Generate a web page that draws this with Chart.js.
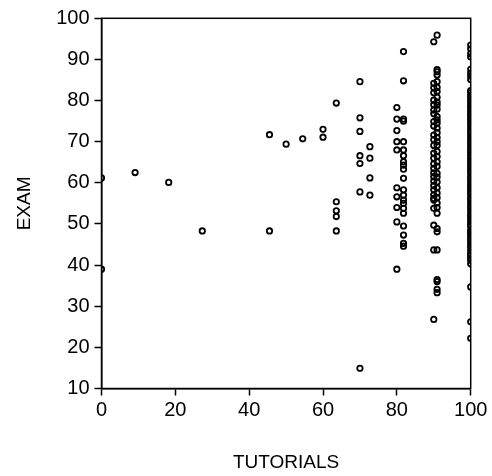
<!DOCTYPE html>
<html>
<head>
<meta charset="utf-8">
<script src="https://cdn.jsdelivr.net/npm/chart.js@4"></script>
<style>
  html, body { margin: 0; padding: 0; background: #fff; }
  #wrap { width: 492px; height: 476px; }
</style>
</head>
<body>
<div id="wrap"><canvas id="chart"></canvas></div>
<script>
// Tutorial attendance levels (x) and the exam scores seen at each level (y)
const tutorialLevels = [0, 9.1, 18.2, 27.3, 45.5, 50, 54.5, 60, 63.6, 70, 72.7, 80, 81.8, 90, 90.9, 100];

const examAt0 = [61.2, 39.0];
const examAt9 = [62.5];
const examAt18 = [60.1];
const examAt27 = [48.3];
const examAt45 = [71.7, 48.3];
const examAt50 = [69.4];
const examAt54 = [70.7];
const examAt60 = [73.0, 71.1];
const examAt63 = [79.4, 55.4, 53.2, 51.8, 48.3];
const examAt70 = [84.6, 75.8, 72.5, 66.6, 64.7, 57.8, 14.9];
const examAt72 = [68.8, 66.0, 61.2, 57.0];
const examAt80 = [78.3, 75.5, 72.7, 70.0, 68.0, 58.8, 56.6, 54.0, 50.5, 39.0];
const examAt81 = [91.9, 84.8, 75.5, 75.0, 70.0, 68.0, 66.6, 65.1, 64.3, 63.3, 61.1, 58.3, 57.0,
                  55.8, 55.0, 53.8, 52.6, 49.5, 47.3, 45.3, 44.6];
const examAt90 = [94.3, 84.2, 83.1, 81.9, 80.1, 79.0, 77.7, 76.8, 74.9, 73.8, 71.6, 70.5, 69.1,
                  67.2, 66.0, 64.6, 63.5, 62.4, 61.5, 60.4, 59.3, 58.3, 57.1, 56.2, 55.8,
                  53.8, 49.7, 43.7, 26.8];
const examAt91 = [95.9, 87.5, 87.0, 86.2, 84.6, 83.2, 82.2, 80.8, 79.6, 78.9, 77.9, 76.1, 75.3,
                  74.5, 73.3, 72.2, 71.0, 70.0, 69.1, 67.6, 66.4, 65.1, 64.0, 62.3, 61.4,
                  60.2, 58.8, 57.5, 56.4, 55.1, 54.0, 52.6, 48.9, 48.1, 43.7, 36.5, 36.0,
                  34.1, 33.3];
const examAt100 = [93.5, 92.6, 91.4, 90.6, 87.6, 86.7, 86.0, 85.1, 82.4, 81.9, 81.2, 80.6, 80.0,
                   79.4, 78.8, 78.2, 77.6, 76.9, 76.4, 75.8, 75.3, 74.6, 74.0, 73.2, 72.5, 71.9,
                   71.1, 70.4, 69.8, 69.2, 68.5, 67.9, 67.3, 66.7, 66.1, 65.4, 64.8, 64.2,
                   63.6, 62.9, 62.3, 61.5, 60.9, 60.2, 59.6, 59.0, 58.4, 57.8, 57.3, 56.5,
                   55.9, 55.2, 54.4, 53.8, 53.1, 52.3, 51.7, 51.2, 50.6, 49.9, 49.3, 48.4,
                   47.9, 47.5, 46.8, 46.2, 45.6, 44.9, 44.3, 43.5, 42.8, 42.4, 41.7, 41.2,
                   40.3, 34.7, 26.2, 22.2];

const examByLevel = [examAt0, examAt9, examAt18, examAt27, examAt45, examAt50, examAt54, examAt60,
                     examAt63, examAt70, examAt72, examAt80, examAt81, examAt90, examAt91, examAt100];

const xTicks = [0, 20, 40, 60, 80, 100];
const yTicks = [10, 20, 30, 40, 50, 60, 70, 80, 90, 100];

const points = [];
tutorialLevels.forEach((t, i) => {
    examByLevel[i].forEach(e => points.push({ x: t, y: e }));
});

const FONT = "'Liberation Sans', Arial, sans-serif";

// draws the closed frame around the plot area
const frameBox = {
    id: 'frameBox',
    afterDraw(chart) {
        const { ctx, chartArea: a } = chart;
        ctx.save();
        ctx.strokeStyle = '#000';
        ctx.lineWidth = 1.5;
        ctx.strokeRect(a.left, a.top, a.right - a.left, a.bottom - a.top);
        ctx.restore();
    }
};

new Chart(document.getElementById('chart'), {
    type: 'scatter',
    data: {
        datasets: [{
            data: points,
            pointStyle: 'circle',
            pointRadius: 2.7,
            pointBorderWidth: 1.8,
            pointBorderColor: '#000',
            pointBackgroundColor: 'rgba(0,0,0,0)',
            clip: 0
        }]
    },
    options: {
        responsive: true,
        maintainAspectRatio: false,
        animation: false,
        layout: { padding: { top: 18.3, right: 21.3, left: 0, bottom: 0 } },
        plugins: { legend: { display: false }, tooltip: { enabled: false } },
        scales: {
            x: {
                type: 'linear',
                min: 0,
                max: 100,
                afterFit: s => { s.height = 87.5; },
                afterBuildTicks: s => { s.ticks = xTicks.map(v => ({ value: v })); },
                grid: { drawOnChartArea: false, tickLength: 7, tickColor: '#000', tickWidth: 1.5 },
                border: { color: '#000', width: 1.5 },
                ticks: { color: '#000', padding: 3, maxRotation: 0, font: { family: FONT, size: 20 } },
                title: {
                    display: true, text: 'TUTORIALS', color: '#000',
                    font: { family: FONT, size: 19 }, padding: { top: 0, bottom: 2 }
                }
            },
            y: {
                type: 'linear',
                min: 10,
                max: 100,
                afterFit: s => { s.width = 101.5; },
                afterBuildTicks: s => { s.ticks = yTicks.map(v => ({ value: v })); },
                grid: { drawOnChartArea: false, tickLength: 7, tickColor: '#000', tickWidth: 1.5 },
                border: { color: '#000', width: 1.5 },
                ticks: { color: '#000', padding: 5, font: { family: FONT, size: 20 } },
                title: {
                    display: true, text: 'EXAM', color: '#000',
                    font: { family: FONT, size: 19 }, padding: { top: 13.6, bottom: 0 }
                }
            }
        }
    },
    plugins: [frameBox]
});
</script>
</body>
</html>
